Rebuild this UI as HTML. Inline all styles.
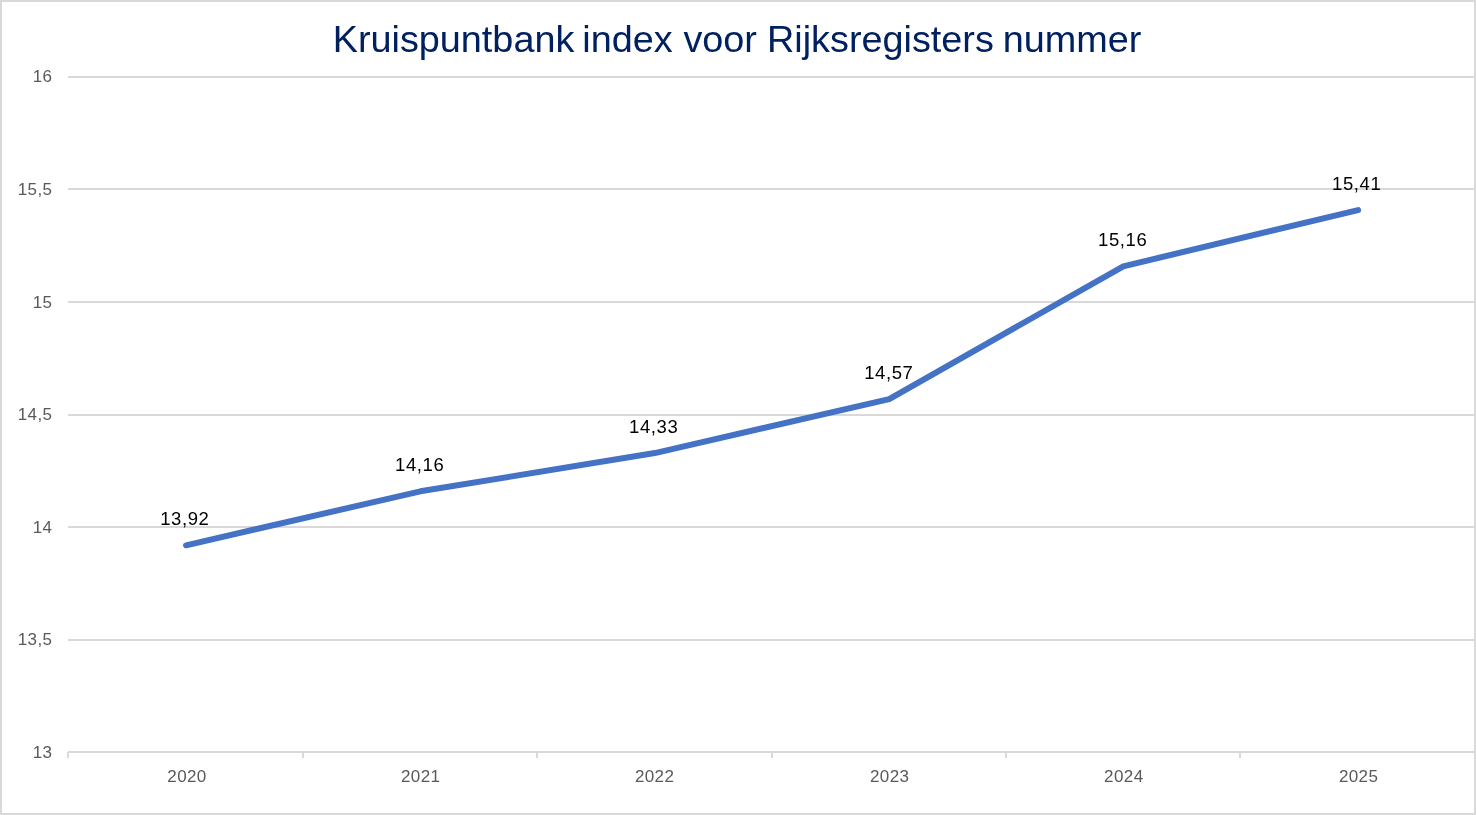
<!DOCTYPE html>
<html lang="nl">
<head>
<meta charset="utf-8">
<title>Kruispuntbank index voor Rijksregisters nummer</title>
<style>
html,body{margin:0;padding:0;background:#fff;}
body{width:1476px;height:815px;overflow:hidden;}
svg{display:block;}
text{font-family:"Liberation Sans",sans-serif;}
.ax{font-size:17px;fill:#595959;letter-spacing:0.4px;}
.dl{font-size:18.5px;fill:#000;letter-spacing:0.58px;}
.title{font-size:37.8px;fill:#002060;}
</style>
</head>
<body>
<svg width="1476" height="815" viewBox="0 0 1476 815">
  <rect x="0" y="0" width="1476" height="815" fill="#ffffff"/>
  <rect x="1" y="1" width="1474" height="813" fill="none" stroke="#d9d9d9" stroke-width="2"/>
  <g stroke="#d9d9d9" stroke-width="2" fill="none">
    <line x1="68" y1="77" x2="1474" y2="77"/>
    <line x1="68" y1="189" x2="1474" y2="189"/>
    <line x1="68" y1="302" x2="1474" y2="302"/>
    <line x1="68" y1="415" x2="1474" y2="415"/>
    <line x1="68" y1="527" x2="1474" y2="527"/>
    <line x1="68" y1="640" x2="1474" y2="640"/>
    <line x1="68" y1="752" x2="1474" y2="752"/>
    <line x1="68" y1="752" x2="68" y2="758"/>
    <line x1="303" y1="752" x2="303" y2="758"/>
    <line x1="537" y1="752" x2="537" y2="758"/>
    <line x1="772" y1="752" x2="772" y2="758"/>
    <line x1="1006" y1="752" x2="1006" y2="758"/>
    <line x1="1240" y1="752" x2="1240" y2="758"/>
  </g>
  <polyline points="186.05,545.30 420.40,491.30 654.80,453.05 889.20,399.05 1123.30,266.30 1358.05,210.05" fill="none" stroke="#4472c4" stroke-width="6" stroke-linecap="round" stroke-linejoin="round"/>
  <text class="title" y="51.7"><tspan x="332.7">Kruispuntbank</tspan> <tspan x="582.3">index</tspan> <tspan x="683.4">voor</tspan> <tspan x="767">Rijksregisters</tspan> <tspan x="1002.8">nummer</tspan></text>
  <g class="ax" text-anchor="end">
    <text x="52.4" y="81.7">16</text>
    <text x="52.4" y="194.7">15,5</text>
    <text x="52.4" y="307.7">15</text>
    <text x="52.4" y="419.7">14,5</text>
    <text x="52.4" y="532.7">14</text>
    <text x="52.4" y="644.7">13,5</text>
    <text x="52.4" y="757.7">13</text>
  </g>
  <g class="ax">
    <text x="167.3" y="781.7">2020</text>
    <text x="401" y="781.7">2021</text>
    <text x="634.9" y="781.7">2022</text>
    <text x="870" y="781.7">2023</text>
    <text x="1104.1" y="781.7">2024</text>
    <text x="1338.9" y="781.7">2025</text>
  </g>
  <g class="dl">
    <text x="160.2" y="525">13,92</text>
    <text x="395.1" y="471">14,16</text>
    <text x="629.1" y="433">14,33</text>
    <text x="864.2" y="379">14,57</text>
    <text x="1098.1" y="246">15,16</text>
    <text x="1332.1" y="190">15,41</text>
  </g>
</svg>
</body>
</html>
